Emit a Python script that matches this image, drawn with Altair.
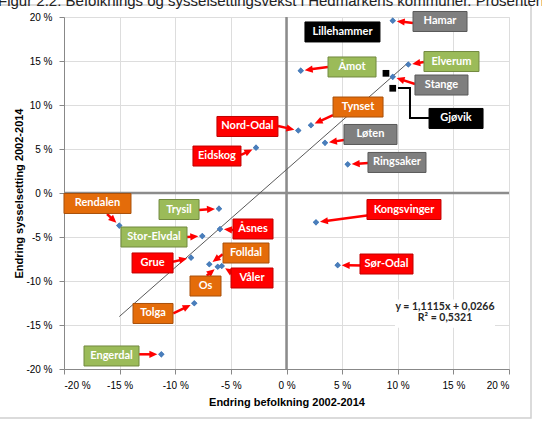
import altair as alt
import pandas as pd
import numpy as np

# ---------------- data (percent) ----------------
kommuner = ["Hamar", "Åmot", "Elverum", "Stange", "Tynset", "Nord-Odal", "Løten",
            "Ringsaker", "Eidskog", "Kongsvinger", "Sør-Odal", "Trysil", "Rendalen",
            "Stor-Elvdal", "Åsnes", "Grue", "Folldal", "Os", "Våler", "Tolga", "Engerdal"]
befolkning = [9.55, 1.28, 10.95, 9.55, 2.2, 1.06, 3.46, 5.5, -2.74, 2.65, 4.6, -6.07,
              -15.03, -7.57, -5.98, -8.58, -6.94, -6.18, -5.82, -8.29, -11.25]
sysselsetting = [19.58, 13.9, 14.6, 13.2, 7.7, 7.1, 5.7, 3.26, 5.15, -3.33, -8.2, -1.78,
                 -3.7, -4.9, -4.1, -7.35, -8.1, -8.38, -8.3, -12.53, -18.33]
region = ["Hamar", "Sør-Østerdal", "Sør-Østerdal", "Hamar", "Nord-Østerdal", "Glåmdal", "Hamar",
          "Hamar", "Glåmdal", "Glåmdal", "Glåmdal", "Sør-Østerdal", "Nord-Østerdal",
          "Sør-Østerdal", "Glåmdal", "Glåmdal", "Nord-Østerdal", "Nord-Østerdal", "Glåmdal",
          "Nord-Østerdal", "Sør-Østerdal"]

andre = ["Lillehammer", "Gjøvik"]
andre_bef = [8.94, 9.55]
andre_sys = [13.6, 11.9]

# trend line stated on the chart
slope = 1.1115
intercept = 2.66  # 0,0266 in percent
likning = ["y = 1,1115x + 0,0266", "R² = 0,5321"]

# ---------------- annotation placement (data units) ----------------
lab_x = [13.80, 5.89, 14.83, 13.93, 6.43, -3.51, 7.55, 9.93, -6.25, 10.56, 8.99, -9.66,
         -16.99, -11.91, -3.01, -12.04, -3.64, -7.28, -3.10, -12.0, -15.73]
lab_y = [19.49, 14.32, 14.94, 12.27, 9.77, 7.56, 6.65, 3.47, 4.20, -1.875, -8.07, -1.875,
         -1.19, -5.0, -4.09, -7.95, -6.82, -10.57, -9.66, -13.69, -18.52]
lab_w = [54, 48, 55, 53, 50, 61, 53, 58, 48, 74, 53, 40, 67, 66, 40, 41, 46, 31, 42, 40, 55]
tail_x = [11.37, 3.73, 12.36, 11.55, 4.18, -0.76, 5.17, 7.33, -4.09, 10.25, 9.62, -7.87,
          -16.13, -8.94, -4.81, -10.20, -5.73, -7.17, -5.02, -10.18, -13.26]
tail_y = [19.32, 14.32, 14.89, 12.39, 8.86, 7.61, 6.02, 3.41, 4.32, -2.05, -8.30, -1.93,
          -2.39, -5.0, -4.20, -7.81, -6.97, -9.40, -8.94, -13.67, -18.33]

andre_lab_x = [5.03, 15.24]
andre_lab_y = [18.30, 8.47]
andre_lab_w = [75, 54]
gjovik_x = [12.81, 11.10, 11.10, 10.02]
gjovik_y = [8.52, 8.52, 11.93, 11.93]

fill = {"Hamar": "#7f7f7f", "Sør-Østerdal": "#9bbb59", "Nord-Østerdal": "#e46c0a",
        "Glåmdal": "#ff0000", "Annen": "#000000"}
edge = {"Hamar": "#595959", "Sør-Østerdal": "#71893f", "Nord-Østerdal": "#a8500a",
        "Glåmdal": "#c00000", "Annen": "#000000"}

W, H = 445, 352
PX, PY = W / 40.0, H / 40.0
FONT = "Lato"

# ---------------- frames ----------------
pts = pd.DataFrame({"kommune": kommuner, "x": befolkning, "y": sysselsetting, "region": region})
oth = pd.DataFrame({"kommune": andre, "x": andre_bef, "y": andre_sys})

labels = pd.DataFrame({
    "kommune": kommuner + andre,
    "lx": lab_x + andre_lab_x,
    "ly": lab_y + andre_lab_y,
    "w": lab_w + andre_lab_w,
    "region": region + ["Annen", "Annen"],
})
labels["fill"] = labels["region"].map(fill)
labels["edge"] = labels["region"].map(edge)
BH = 20
labels["path"] = [f"M{-w/2},{-BH/2}L{w/2},{-BH/2}L{w/2},{BH/2}L{-w/2},{BH/2}Z" for w in labels["w"]]

# arrows (computed in screen space)
rows = []
for k, px_, py_, tx, ty in zip(kommuner, befolkning, sysselsetting, tail_x, tail_y):
    Px, Py = (px_ + 20) * PX, (20 - py_) * PY
    Tx, Ty = (tx + 20) * PX, (20 - ty) * PY
    dx, dy = Px - Tx, Py - Ty
    L = np.hypot(dx, dy)
    ux, uy = dx / L, dy / L
    tipx, tipy = Px - ux * 4, Py - uy * 4
    basex, basey = tipx - ux * 6, tipy - uy * 6
    ang = (np.degrees(np.arctan2(ux, -uy)) + 360) % 360
    rows.append({"kommune": k, "tx": tx, "ty": ty,
                 "bx": basex / PX - 20, "by": 20 - basey / PY,
                 "hx": tipx / PX - 20, "hy": 20 - tipy / PY, "ang": ang})
arrows = pd.DataFrame(rows)
HEAD = "M0,0L3.6,8L-3.6,8Z"

xmin, xmax = min(befolkning), max(befolkning)
trend = pd.DataFrame({"x": [xmin, xmax], "y": [slope * xmin + intercept, slope * xmax + intercept]})
gjovik = pd.DataFrame({"x": gjovik_x, "y": gjovik_y, "o": [0, 1, 2, 3]})
one = pd.DataFrame({"a": [0]})

ticks = list(range(-20, 21, 5))
xs = alt.Scale(domain=[-20, 20], nice=False, zero=False)
ys = alt.Scale(domain=[-20, 20], nice=False, zero=False)

base_x = alt.X("x:Q", scale=xs,
               axis=alt.Axis(values=ticks, labelExpr="datum.value + ' %'",
                             title="Endring befolkning 2002-2014", labelPadding=6,
                             titlePadding=6))
base_y = alt.Y("y:Q", scale=ys,
               axis=alt.Axis(values=ticks, labelExpr="datum.value + ' %'",
                             title="Endring sysselsetting 2002-2014", labelPadding=7,
                             titlePadding=1))

frame = alt.Chart(one).mark_rect(fill=None, stroke="#d0d0d0", strokeWidth=1.5).encode(
    x=alt.value(-74), x2=alt.value(467), y=alt.value(-12), y2=alt.value(401))

points_layer = alt.Chart(pts).mark_point(shape="diamond", filled=True, color="#4a7ebb",
                                         size=38, opacity=1).encode(x=base_x, y=base_y)

vzero = alt.Chart(one).mark_rule(color="#8c8c8c", strokeWidth=2.5).encode(x=alt.datum(0))
hzero = alt.Chart(one).mark_rule(color="#8c8c8c", strokeWidth=2.5).encode(y=alt.datum(0))

trend_layer = alt.Chart(trend).mark_line(color="#595959", strokeWidth=1).encode(
    x="x:Q", y="y:Q")

eqbox = alt.Chart(one).mark_rect(fill="white").encode(
    x=alt.datum(9.75), x2=alt.datum(18.74), y=alt.datum(-12.1), y2=alt.datum(-15.3))
eqtext = alt.Chart(pd.DataFrame({"t": likning, "y": [-12.92, -14.2], "x": [14.25, 14.25]})).mark_text(
    font=FONT, fontSize=10.5, fontWeight="bold", color="#262626", baseline="middle").encode(
    x="x:Q", y="y:Q", text="t:N")

arrow_lines = alt.Chart(arrows).mark_rule(color="#ff0000", strokeWidth=2.5).encode(
    x="tx:Q", y="ty:Q", x2="bx:Q", y2="by:Q")
arrow_heads = alt.Chart(arrows).mark_point(shape=HEAD, filled=True, color="#ff0000",
                                           size=4, opacity=1, strokeWidth=0).encode(
    x="hx:Q", y="hy:Q", angle=alt.Angle("ang:Q", scale=None))

gj_line = alt.Chart(gjovik).mark_line(color="#000000", strokeWidth=2).encode(
    x="x:Q", y="y:Q", order="o:Q")
squares = alt.Chart(oth).mark_point(shape="square", filled=True, color="#000000",
                                    size=45, opacity=1).encode(x="x:Q", y="y:Q")

boxes = alt.Chart(labels).mark_point(filled=True, size=4, opacity=1, strokeWidth=1).encode(
    x="lx:Q", y="ly:Q",
    shape=alt.Shape("path:N", scale=None),
    fill=alt.Fill("fill:N", scale=None),
    stroke=alt.Stroke("edge:N", scale=None))
box_text = alt.Chart(labels).mark_text(font=FONT, fontSize=11, fontWeight="bold",
                                       color="white", baseline="middle").encode(
    x="lx:Q", y="ly:Q", text="kommune:N")

title_txt = alt.Chart(one).mark_text(
    text="Figur 2.2: Befolknings og sysselsettingsvekst i Hedmarkens kommuner. Prosentendring 2002-2014",
    font="Liberation Sans", fontSize=15, color="#222222", align="left", baseline="alphabetic"
).encode(x=alt.value(-66), y=alt.value(-11))

chart = alt.layer(
    frame, points_layer, vzero, hzero, trend_layer, eqbox, eqtext,
    arrow_lines, arrow_heads, gj_line, squares, points_layer.mark_point(
        shape="diamond", filled=True, color="#4a7ebb", size=38, opacity=1),
    boxes, box_text, title_txt
).properties(
    width=W, height=H,
    autosize=alt.AutoSizeParams(type="none"),
    padding={"left": 64, "top": 17, "right": 33, "bottom": 55},
).configure_view(stroke=None).configure_axis(
    labelFont=FONT, labelFontSize=10.5, labelFontWeight="bold", labelColor="#333333",
    titleFont=FONT, titleFontSize=11, titleFontWeight="bold", titleColor="#262626",
    domain=False, ticks=False, tickSize=0, gridColor="#d0d0d0", gridWidth=1
).configure(background="white")

chart.save("out.html", embed_options={"renderer": "svg", "actions": False})
